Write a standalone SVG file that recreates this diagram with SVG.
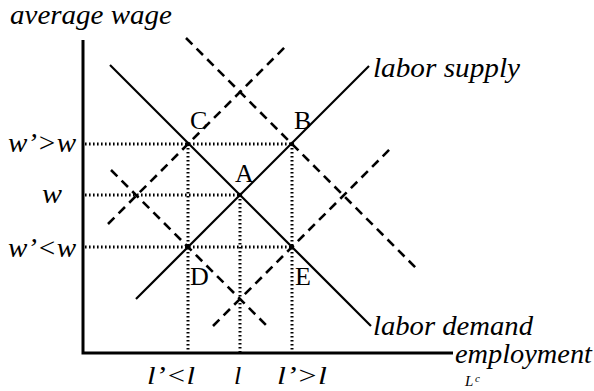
<svg xmlns="http://www.w3.org/2000/svg" width="594" height="391" viewBox="0 0 594 391">
<style>
.lbl{font-family:"Liberation Serif","Times New Roman",serif;font-style:italic;font-size:28px;fill:#000}
.pt{font-family:"Liberation Serif","Times New Roman",serif;font-size:26px;fill:#000}
.solid{stroke:#000;stroke-width:2.2;fill:none}
.dash{stroke:#000;stroke-width:2.6;stroke-dasharray:9 6;fill:none}
.dot{stroke:#000;stroke-width:3;stroke-dasharray:1.6 2.4;fill:none}
.axis{stroke:#000;stroke-width:3;fill:none}
</style>
<rect width="594" height="391" fill="#fff"/>
<g id="guides">
<line class="dot" x1="85" y1="144" x2="292" y2="144"/>
<line class="dot" x1="85" y1="195" x2="240" y2="195"/>
<line class="dot" x1="85" y1="247" x2="292" y2="247"/>
<line class="dot" x1="188" y1="144" x2="188" y2="352"/>
<line class="dot" x1="240" y1="195" x2="240" y2="352"/>
<line class="dot" x1="292" y1="144" x2="292" y2="352"/>
</g>
<g id="axes">
<polyline class="axis" points="83,40 83,353 453,353"/>
</g>
<g id="connectors">
<line id="demand" class="solid" x1="110" y1="65" x2="371" y2="326"/>
<line id="supply" class="solid" x1="136" y1="299" x2="369" y2="66"/>
<line id="demand-up" class="dash" x1="186" y1="38" x2="418" y2="270"/>
<line id="supply-up" class="dash" x1="108" y1="224" x2="288" y2="44"/>
<line id="demand-down" class="dash" x1="111" y1="170" x2="267" y2="326"/>
<line id="supply-down" class="dash" x1="213" y1="326" x2="391" y2="148"/>
</g>
<g id="A"><circle cx="240" cy="195" r="2.2"/><text class="pt" x="235" y="182">A</text></g>
<g id="B"><circle cx="292" cy="144" r="2.2"/><text class="pt" x="294" y="129">B</text></g>
<g id="C"><circle cx="188" cy="144" r="2.2"/><text class="pt" x="190" y="129">C</text></g>
<g id="D"><circle cx="188" cy="247" r="2.2"/><text class="pt" x="190" y="285">D</text></g>
<g id="E"><circle cx="292" cy="247" r="2.2"/><text class="pt" x="295" y="285">E</text></g>
<g id="labels">
<text class="lbl" x="10" y="24" textLength="162" lengthAdjust="spacingAndGlyphs">average wage</text>
<text class="lbl" x="373" y="77" textLength="147" lengthAdjust="spacingAndGlyphs">labor supply</text>
<text class="lbl" x="373" y="335" textLength="160" lengthAdjust="spacingAndGlyphs">labor demand</text>
<text class="lbl" x="455" y="363" textLength="137" lengthAdjust="spacingAndGlyphs">employment</text>
<text class="lbl" x="465" y="386" style="font-size:15px">L</text>
<text class="lbl" x="475" y="382" style="font-size:11px">c</text>
<text class="lbl" x="8" y="152" textLength="68" lengthAdjust="spacingAndGlyphs">w’&gt;w</text>
<text class="lbl" x="42" y="203" textLength="20" lengthAdjust="spacingAndGlyphs">w</text>
<text class="lbl" x="8" y="257" textLength="68" lengthAdjust="spacingAndGlyphs">w’&lt;w</text>
<text class="lbl" x="147" y="384" style="font-size:26px" textLength="48" lengthAdjust="spacingAndGlyphs">l’&lt;l</text>
<text class="lbl" x="234" y="384" style="font-size:26px">l</text>
<text class="lbl" x="277" y="384" style="font-size:26px" textLength="50" lengthAdjust="spacingAndGlyphs">l’&gt;l</text>
</g>
</svg>
